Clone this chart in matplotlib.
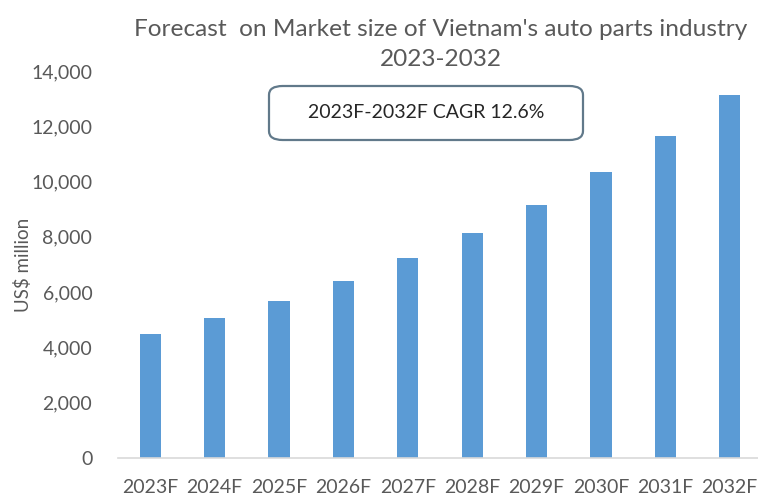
import matplotlib
matplotlib.use("Agg")
import matplotlib.pyplot as plt
from matplotlib.patches import FancyBboxPatch

years = ["2023F", "2024F", "2025F", "2026F", "2027F", "2028F", "2029F", "2030F", "2031F", "2032F"]
market_size = [4490, 5070, 5690, 6410, 7240, 8140, 9170, 10340, 11650, 13130]
y_ticks = [0, 2000, 4000, 6000, 8000, 10000, 12000, 14000]
title_line1 = "Forecast  on Market size of Vietnam's auto parts industry"
title_line2 = "2023-2032"
cagr_text = "2023F-2032F CAGR 12.6%"

plt.rcParams["font.family"] = ["Lato", "DejaVu Sans"]

W, H = 758, 496
fig = plt.figure(figsize=(W / 100, H / 100), dpi=100)
ax = fig.add_axes([118 / W, (H - 458) / H, (W - 118) / W, 387 / H])

x = list(range(len(years)))
ax.bar(x, market_size, width=0.33, color="#5b9bd5", zorder=2)

ax.set_xlim(-0.5, 9.44)
ax.set_ylim(0, 14000)
ax.set_yticks(y_ticks)
ax.set_yticklabels([f"{v:,}" for v in y_ticks])
ax.set_xticks(x)
ax.set_xticklabels(years)

for side in ["top", "right", "left"]:
    ax.spines[side].set_visible(False)
ax.spines["bottom"].set_color("#d9d9d9")
ax.spines["bottom"].set_linewidth(1.2)
ax.tick_params(axis="both", length=0, colors="#595959", labelsize=14)
ax.tick_params(axis="y", pad=18.5)
ax.tick_params(axis="x", pad=15)

ax.set_ylabel("US$ million", color="#595959", fontsize=13.5)
ax.yaxis.set_label_coords(-0.134, 0.5)

fig.text(441 / W, 1 - 29 / H, title_line1, ha="center", va="center",
         fontsize=17.6, color="#595959")
fig.text(441 / W, 1 - 60 / H, title_line2, ha="center", va="center",
         fontsize=17.6, color="#595959")

box = FancyBboxPatch((269 / W, 1 - 140 / H), (583 - 269) / W, (140 - 86) / H,
                     boxstyle="round,pad=0,rounding_size=0.018",
                     transform=fig.transFigure, facecolor="white",
                     edgecolor="#61798a", linewidth=1.6)
fig.patches.append(box)
fig.text(426 / W, 1 - 113 / H, cagr_text, ha="center", va="center",
         fontsize=14, color="#262626")

fig.savefig("out.png", dpi=100)
